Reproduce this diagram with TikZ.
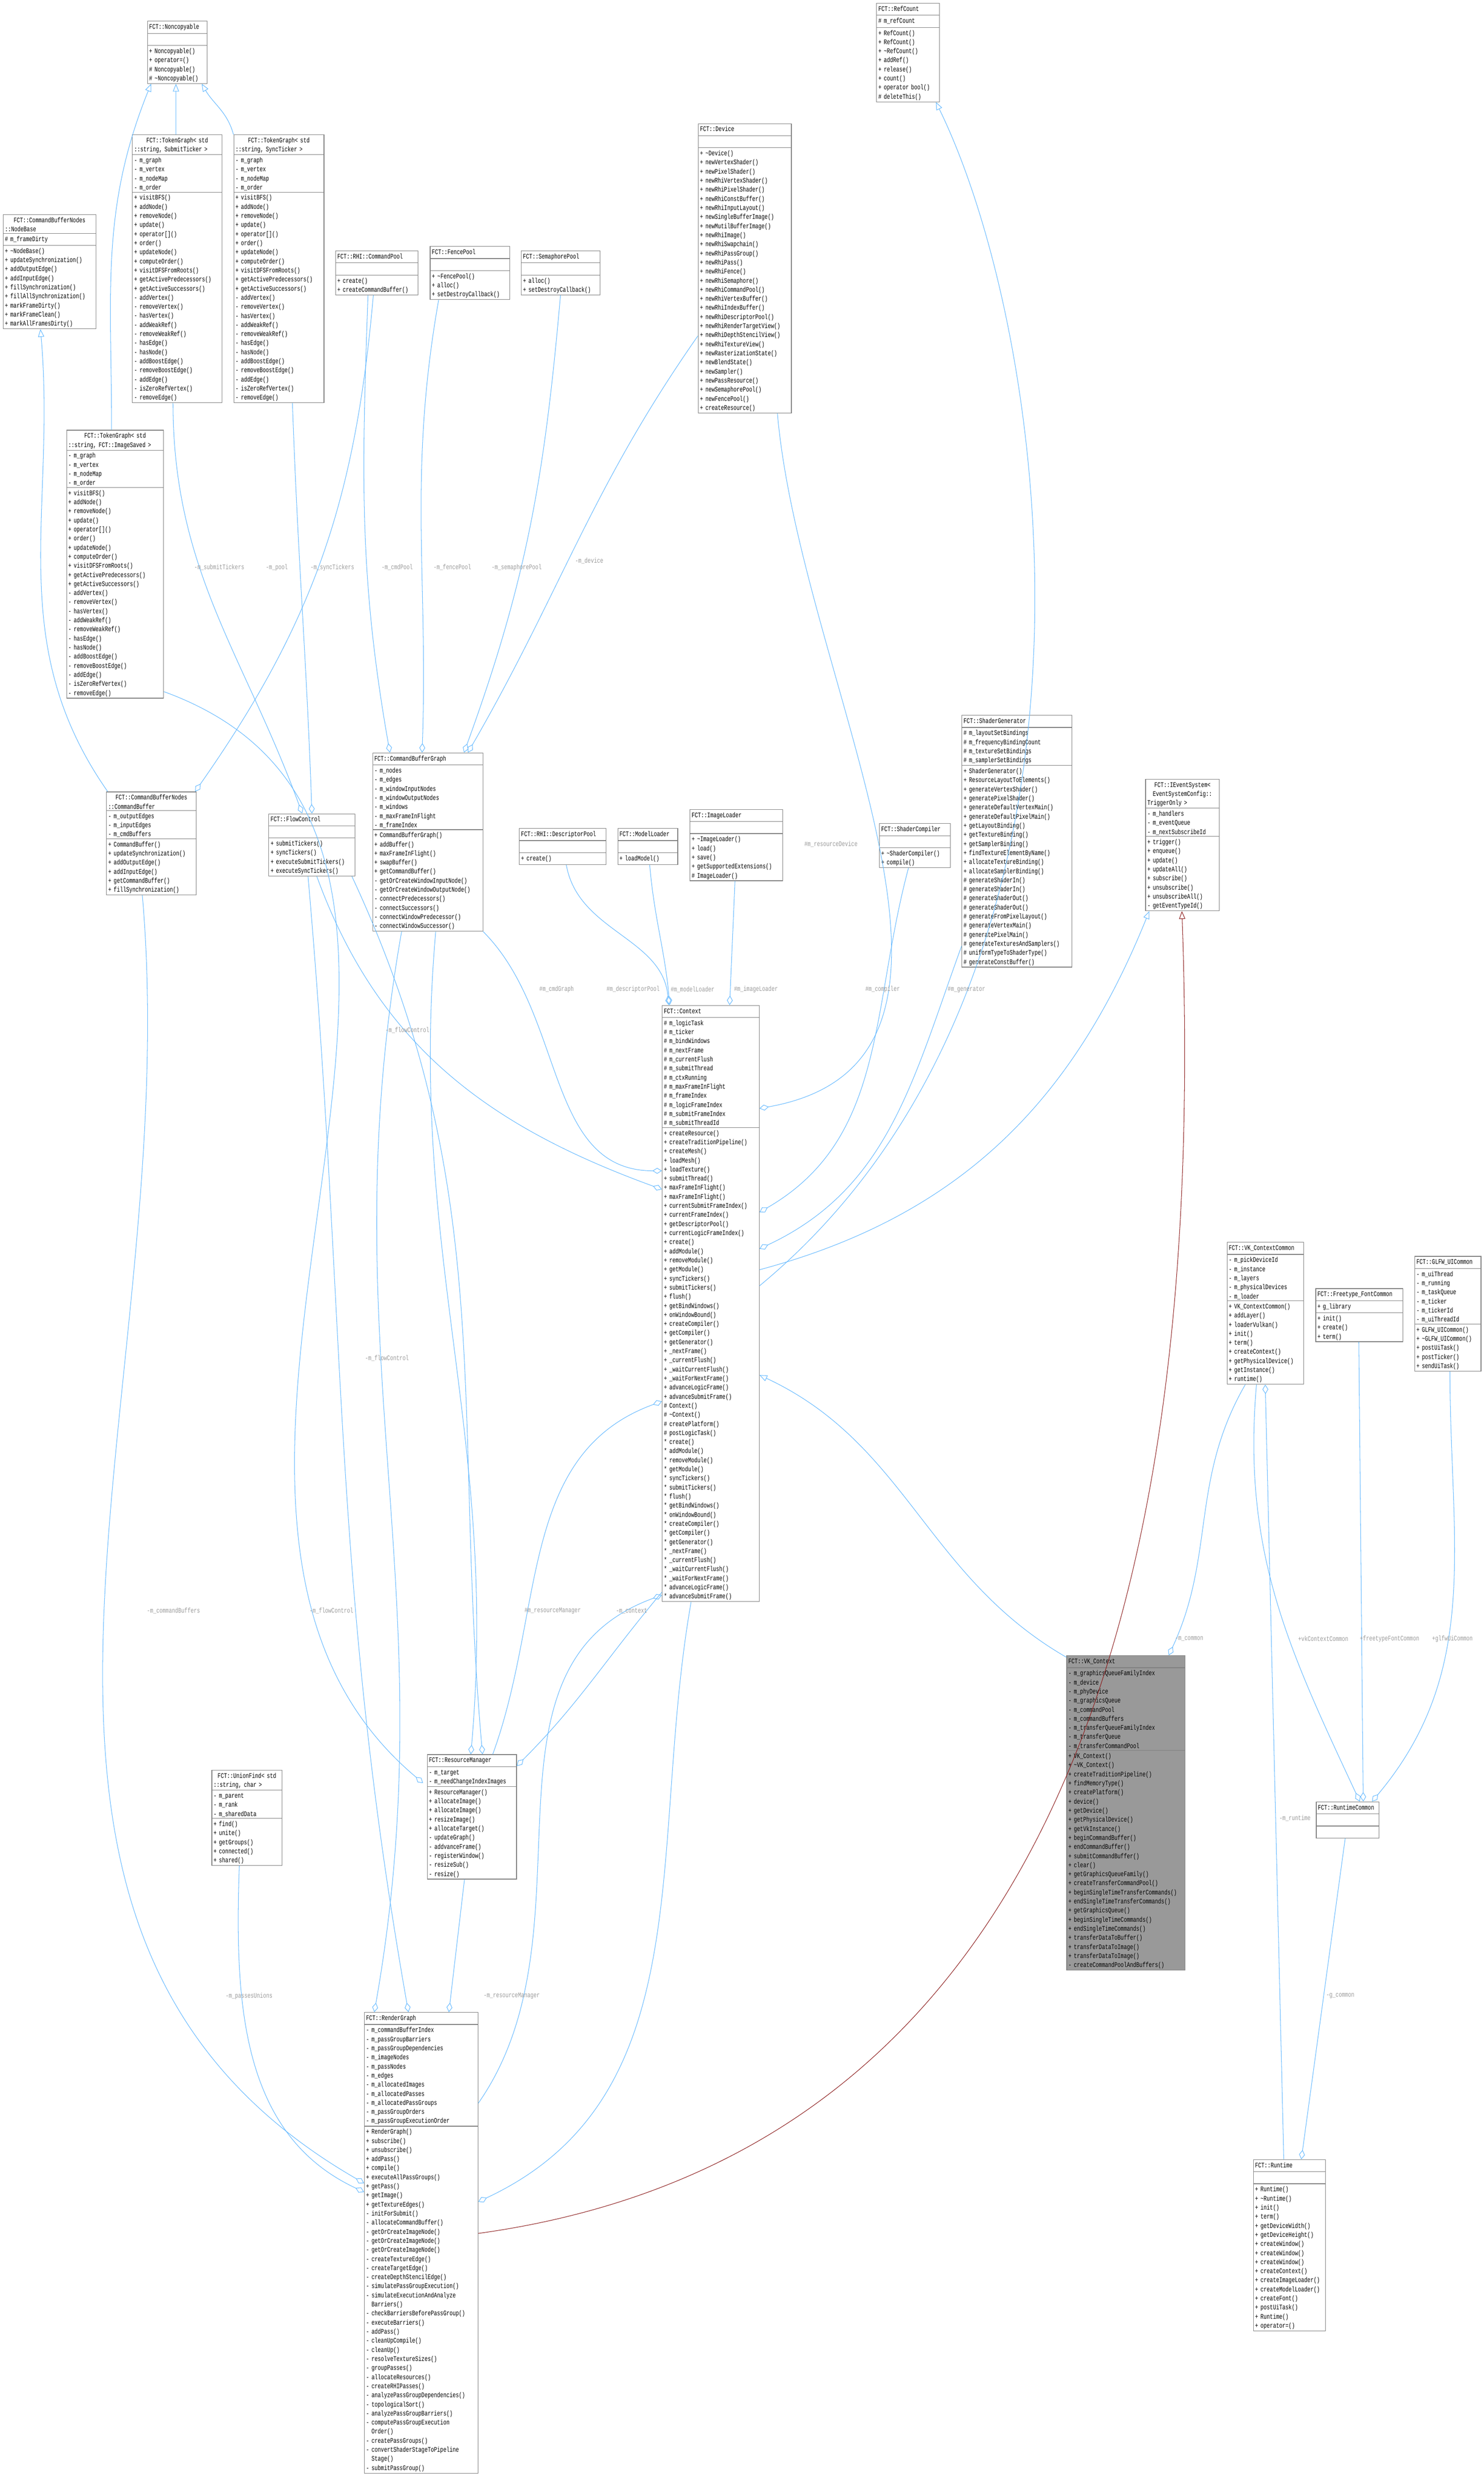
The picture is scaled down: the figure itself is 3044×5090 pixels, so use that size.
\documentclass[tikz,border=0pt]{standalone}
\usepackage{fontspec}
\usepackage{tikz}
\usetikzlibrary{positioning,calc,arrows.meta,shapes.multipart}
\usepackage{xcolor}

\newfontfamily\umlfam[FakeStretch=0.74]{Liberation Mono}
\newcommand\umlfont{\umlfam\fontsize{4.1}{5.3}\selectfont}
\definecolor{edgeblue}{HTML}{63B8FF}
\definecolor{lblgray}{HTML}{9A9A9A}
\definecolor{boxgray}{HTML}{808080}
\definecolor{inhred}{HTML}{8B1A1A}
\definecolor{vkfill}{HTML}{999999}

\tikzset{
  umlclass/.style={rectangle split, rectangle split parts=3, draw=boxgray, fill=white,
    line width=0.35pt, inner xsep=1pt, inner ysep=0.7pt, font=\umlfont, anchor=north west},
  agg/.style={draw=edgeblue, line width=0.3pt, -{Diamond[open,length=5.5pt,width=3.4pt]}},
  inh/.style={draw=edgeblue, line width=0.3pt, -{Triangle[open,length=4.5pt,width=3.6pt]}},
  inhred/.style={draw=inhred, line width=0.3pt, -{Triangle[open,length=4.5pt,width=3.6pt]}},
  lbl/.style={font=\umlfont, text=lblgray, inner sep=0pt}
}

% class box: [opts]{name}{x,y}{width}{title}{attributes}{methods}
\newcommand\umlbox[7][]{%
  \pgfmathsetmacro\umlw{(#4-7)*0.01}%
  \node[umlclass,#1,text width=\umlw cm] (#2) at (#3)
    {\centering\strut #5\nodepart{two}\raggedright\strut #6\nodepart{three}\raggedright\strut #7};}

\catcode`\_=12
\newcommand\tgattrs{- m_graph\\- m_vertex\\- m_nodeMap\\- m_order}
\newcommand\tgmethods{+ visitBFS()\\+ addNode()\\+ removeNode()\\+ update()\\+ operator[]()\\+ order()\\+ updateNode()\\+ computeOrder()\\+ visitDFSFromRoots()\\+ getActivePredecessors()\\+ getActiveSuccessors()\\- addVertex()\\- removeVertex()\\- hasVertex()\\- addWeakRef()\\- removeWeakRef()\\- hasEdge()\\- hasNode()\\- addBoostEdge()\\- removeBoostEdge()\\- addEdge()\\- isZeroRefVertex()\\- removeEdge()}

\begin{document}
\begin{tikzpicture}[x=0.01cm, y=-0.01cm]
  \useasboundingbox (0,0) rectangle (3044,5090);

  % Top row
  \umlbox{noncop}{302,43}{122}{FCT::Noncopyable}{}{+ Noncopyable()\\+ operator=()\\\# Noncopyable()\\\# \textasciitilde Noncopyable()}
  \umlbox{refcount}{1798,6}{129}{FCT::RefCount}{\# m_refCount}{+ RefCount()\\+ RefCount()\\+ \textasciitilde RefCount()\\+ addRef()\\+ release()\\+ count()\\+ operator bool()\\\# deleteThis()}
  \umlbox{tgsubmit}{271,276}{184}{FCT::TokenGraph< std\\::string, SubmitTicker >}{\tgattrs}{\tgmethods}
  \umlbox{tgsync}{479,276}{185}{FCT::TokenGraph< std\\::string, SyncTicker >}{\tgattrs}{\tgmethods}
  \umlbox{nodebase}{6,440}{190}{FCT::CommandBufferNodes\\::NodeBase}{\# m_frameDirty}{+ \textasciitilde NodeBase()\\+ updateSynchronization()\\+ addOutputEdge()\\+ addInputEdge()\\+ fillSynchronization()\\+ fillAllSynchronization()\\+ markFrameDirty()\\+ markFrameClean()\\+ markAllFramesDirty()}
  \umlbox{cmdpool}{688,514}{169}{FCT::RHI::CommandPool}{}{+ create()\\+ createCommandBuffer()}
  \umlbox{fencepool}{882,505}{163}{FCT::FencePool}{}{+ \textasciitilde FencePool()\\+ alloc()\\+ setDestroyCallback()}
  \umlbox{sempool}{1069,514}{162}{FCT::SemaphorePool}{}{+ alloc()\\+ setDestroyCallback()}
  \umlbox{device}{1432,253}{191}{FCT::Device}{}{+ \textasciitilde Device()\\+ newVertexShader()\\+ newPixelShader()\\+ newRhiVertexShader()\\+ newRhiPixelShader()\\+ newRhiConstBuffer()\\+ newRhiInputLayout()\\+ newSingleBufferImage()\\+ newMutilBufferImage()\\+ newRhiImage()\\+ newRhiSwapchain()\\+ newRhiPassGroup()\\+ newRhiPass()\\+ newRhiFence()\\+ newRhiSemaphore()\\+ newRhiCommandPool()\\+ newRhiVertexBuffer()\\+ newRhiIndexBuffer()\\+ newRhiDescriptorPool()\\+ newRhiRenderTargetView()\\+ newRhiDepthStencilView()\\+ newRhiTextureView()\\+ newRasterizationState()\\+ newBlendState()\\+ newSampler()\\+ newPassResource()\\+ newSemaphorePool()\\+ newFencePool()\\+ createResource()}

  % Middle row
  \umlbox{tgimage}{136,882}{199}{FCT::TokenGraph< std\\::string, FCT::ImageSaved >}{\tgattrs}{\tgmethods}
  \umlbox{cmdbuf}{218,1624}{184}{FCT::CommandBufferNodes\\::CommandBuffer}{- m_outputEdges\\- m_inputEdges\\- m_cmdBuffers}{+ CommandBuffer()\\+ updateSynchronization()\\+ addOutputEdge()\\+ addInputEdge()\\+ getCommandBuffer()\\+ fillSynchronization()}
  \umlbox{flowctl}{551,1669}{177}{FCT::FlowControl}{}{+ submitTickers()\\+ syncTickers()\\+ executeSubmitTickers()\\+ executeSyncTickers()}
  \umlbox{cbgraph}{764,1544}{226}{FCT::CommandBufferGraph}{- m_nodes\\- m_edges\\- m_windowInputNodes\\- m_windowOutputNodes\\- m_windows\\- m_maxFrameInFlight\\- m_frameIndex}{+ CommandBufferGraph()\\+ addBuffer()\\+ maxFrameInFlight()\\+ swapBuffer()\\+ getCommandBuffer()\\- getOrCreateWindowInputNode()\\- getOrCreateWindowOutputNode()\\- connectPredecessors()\\- connectSuccessors()\\- connectWindowPredecessor()\\- connectWindowSuccessor()}
  \umlbox{descpool}{1065,1699}{178}{FCT::RHI::DescriptorPool}{}{+ create()}
  \umlbox{modelld}{1267,1699}{123}{FCT::ModelLoader}{}{+ loadModel()}
  \umlbox{imageld}{1415,1660}{190}{FCT::ImageLoader}{}{+ \textasciitilde ImageLoader()\\+ load()\\+ save()\\+ getSupportedExtensions()\\\# ImageLoader()}
  \umlbox{shcomp}{1804,1689}{145}{FCT::ShaderCompiler}{}{+ \textasciitilde ShaderCompiler()\\+ compile()}
  \umlbox{shgen}{1973,1467}{226}{FCT::ShaderGenerator}{\# m_layoutSetBindings\\\# m_frequencyBindingCount\\\# m_textureSetBindings\\\# m_samplerSetBindings}{+ ShaderGenerator()\\+ ResourceLayoutToElements()\\+ generateVertexShader()\\+ generatePixelShader()\\+ generateDefaultVertexMain()\\+ generateDefaultPixelMain()\\+ getLayoutBinding()\\+ getTextureBinding()\\+ getSamplerBinding()\\+ findTextureElementByName()\\+ allocateTextureBinding()\\+ allocateSamplerBinding()\\\# generateShaderIn()\\\# generateShaderIn()\\\# generateShaderOut()\\\# generateShaderOut()\\\# generateFromPixelLayout()\\\# generateVertexMain()\\\# generatePixelMain()\\\# generateTexturesAndSamplers()\\\# uniformTypeToShaderType()\\\# generateConstBuffer()}
  \umlbox{ievent}{2350,1598}{151}{FCT::IEventSystem<\\ EventSystemConfig::\\TriggerOnly >}{- m_handlers\\- m_eventQueue\\- m_nextSubscribeId}{+ trigger()\\+ enqueue()\\+ update()\\+ updateAll()\\+ subscribe()\\+ unsubscribe()\\+ unsubscribeAll()\\- getEventTypeId()}

  % Context
  \umlbox{context}{1358,2062}{199}{FCT::Context}{\# m_logicTask\\\# m_ticker\\\# m_bindWindows\\\# m_nextFrame\\\# m_currentFlush\\\# m_submitThread\\\# m_ctxRunning\\\# m_maxFrameInFlight\\\# m_frameIndex\\\# m_logicFrameIndex\\\# m_submitFrameIndex\\\# m_submitThreadId}{+ createResource()\\+ createTraditionPipeline()\\+ createMesh()\\+ loadMesh()\\+ loadTexture()\\+ submitThread()\\+ maxFrameInFlight()\\+ maxFrameInFlight()\\+ currentSubmitFrameIndex()\\+ currentFrameIndex()\\+ getDescriptorPool()\\+ currentLogicFrameIndex()\\+ create()\\+ addModule()\\+ removeModule()\\+ getModule()\\+ syncTickers()\\+ submitTickers()\\+ flush()\\+ getBindWindows()\\+ onWindowBound()\\+ createCompiler()\\+ getCompiler()\\+ getGenerator()\\+ _nextFrame()\\+ _currentFlush()\\+ _waitCurrentFlush()\\+ _waitForNextFrame()\\+ advanceLogicFrame()\\+ advanceSubmitFrame()\\\# Context()\\\# \textasciitilde Context()\\\# createPlatform()\\\# postLogicTask()\\{*} create()\\{*} addModule()\\{*} removeModule()\\{*} getModule()\\{*} syncTickers()\\{*} submitTickers()\\{*} flush()\\{*} getBindWindows()\\{*} onWindowBound()\\{*} createCompiler()\\{*} getCompiler()\\{*} getGenerator()\\{*} _nextFrame()\\{*} _currentFlush()\\{*} _waitCurrentFlush()\\{*} _waitForNextFrame()\\{*} advanceLogicFrame()\\{*} advanceSubmitFrame()}

  % Right side
  \umlbox{vkcommon}{2517,2548}{157}{FCT::VK_ContextCommon}{- m_pickDeviceId\\- m_instance\\- m_layers\\- m_physicalDevices\\- m_loader}{+ VK_ContextCommon()\\+ addLayer()\\+ loaderVulkan()\\+ init()\\+ term()\\+ createContext()\\+ getPhysicalDevice()\\+ getInstance()\\+ runtime()}
  \umlbox{ftcommon}{2699,2643}{179}{FCT::Freetype_FontCommon}{+ g_library}{+ init()\\+ create()\\+ term()}
  \umlbox{glfwcommon}{2902,2577}{136}{FCT::GLFW_UICommon}{- m_uiThread\\- m_running\\- m_taskQueue\\- m_ticker\\- m_tickerId\\- m_uiThreadId}{+ GLFW_UICommon()\\+ \textasciitilde GLFW_UICommon()\\+ postUiTask()\\+ postTicker()\\+ sendUiTask()}
  \umlbox[fill=vkfill]{vkctx}{2188,3396}{243}{FCT::VK_Context}{- m_graphicsQueueFamilyIndex\\- m_device\\- m_phyDevice\\- m_graphicsQueue\\- m_commandPool\\- m_commandBuffers\\- m_transferQueueFamilyIndex\\- m_transferQueue\\- m_transferCommandPool}{+ VK_Context()\\+ \textasciitilde VK_Context()\\+ createTraditionPipeline()\\+ findMemoryType()\\+ createPlatform()\\+ device()\\+ getDevice()\\+ getPhysicalDevice()\\+ getVkInstance()\\+ beginCommandBuffer()\\+ endCommandBuffer()\\+ submitCommandBuffer()\\+ clear()\\+ getGraphicsQueueFamily()\\+ createTransferCommandPool()\\+ beginSingleTimeTransferCommands()\\+ endSingleTimeTransferCommands()\\+ getGraphicsQueue()\\+ beginSingleTimeCommands()\\+ endSingleTimeCommands()\\+ transferDataToBuffer()\\+ transferDataToImage()\\+ transferDataToImage()\\- createCommandPoolAndBuffers()}
  \umlbox{rtcommon}{2700,3696}{129}{FCT::RuntimeCommon}{}{}
  \umlbox{runtime}{2571,4430}{148}{FCT::Runtime}{}{+ Runtime()\\+ \textasciitilde Runtime()\\+ init()\\+ term()\\+ getDeviceWidth()\\+ getDeviceHeight()\\+ createWindow()\\+ createWindow()\\+ createWindow()\\+ createContext()\\+ createImageLoader()\\+ createModelLoader()\\+ createFont()\\+ postUiTask()\\+ Runtime()\\+ operator=()}

  % Bottom
  \umlbox{unionfind}{434,3631}{144}{FCT::UnionFind< std\\::string, char >}{- m_parent\\- m_rank\\- m_sharedData}{+ find()\\+ unite()\\+ getGroups()\\+ connected()\\+ shared()}
  \umlbox{resmgr}{876,3599}{183}{FCT::ResourceManager}{- m_target\\- m_needChangeIndexImages}{+ ResourceManager()\\+ allocateImage()\\+ allocateImage()\\+ resizeImage()\\+ allocateTarget()\\- updateGraph()\\- addvanceFrame()\\- registerWindow()\\- resizeSub()\\- resize()}
  \umlbox{rgraph}{747,4128}{233}{FCT::RenderGraph}{- m_commandBufferIndex\\- m_passGroupBarriers\\- m_passGroupDependencies\\- m_imageNodes\\- m_passNodes\\- m_edges\\- m_allocatedImages\\- m_allocatedPasses\\- m_allocatedPassGroups\\- m_passGroupOrders\\- m_passGroupExecutionOrder}{+ RenderGraph()\\+ subscribe()\\+ unsubscribe()\\+ addPass()\\+ compile()\\+ executeAllPassGroups()\\+ getPass()\\+ getImage()\\+ getTextureEdges()\\- initForSubmit()\\- allocateCommandBuffer()\\- getOrCreateImageNode()\\- getOrCreateImageNode()\\- getOrCreateImageNode()\\- createTextureEdge()\\- createTargetEdge()\\- createDepthStencilEdge()\\- simulatePassGroupExecution()\\- simulateExecutionAndAnalyze\\\phantom{- }Barriers()\\- checkBarriersBeforePassGroup()\\- executeBarriers()\\- addPass()\\- cleanUpCompile()\\- cleanUp()\\- resolveTextureSizes()\\- groupPasses()\\- allocateResources()\\- createRHIPasses()\\- analyzePassGroupDependencies()\\- topologicalSort()\\- analyzePassGroupBarriers()\\- computePassGroupExecution\\\phantom{- }Order()\\- createPassGroups()\\- convertShaderStageToPipeline\\\phantom{- }Stage()\\- submitPassGroup()}

  % Inheritance
  \draw[inh] ($(tgsubmit.north west)+(90,0)$) -- ($(noncop.south west)+(59,0)$);
  \draw[inh] (tgsync.north west) to[out=105,in=-60] ($(noncop.south west)+(112,0)$);
  \draw[inh] ($(tgimage.north west)+(93,0)$) to[out=90,in=-112] ($(noncop.south west)+(8,0)$);
  \draw[inh] ($(cmdbuf.north west)+(3,0)$) to[out=125,in=-85] ($(nodebase.south west)+(77,0)$);
  \draw[inh] ($(context.north east)+(0,576)$) .. controls (2330,2000) and (2160,700) .. ($(refcount.south east)+(-8,0)$);
  \draw[inh] ($(context.north east)+(0,543)$) to[out=15,in=-112] ($(ievent.south west)+(8,0)$);
  \draw[inh] ($(vkctx.north west)+(0,4)$) to[out=150,in=-25] ($(context.north east)+(0,759)$);
  \draw[inhred] ($(rgraph.north east)+(0,454)$) .. controls (2300,4400) and (2465,3000) .. ($(ievent.south west)+(75,0)$);

  % Aggregation
  \draw[agg] ($(tgsubmit.south west)+(84,0)$) to[out=-90,in=110] ($(flowctl.north west)+(69,0)$);
  \draw[agg] ($(tgsync.south west)+(121,0)$) to[out=-88,in=92] ($(flowctl.north west)+(89,0)$);
  \draw[agg] ($(cmdpool.south west)+(78,0)$) to[out=-95,in=55] ($(cmdbuf.north east)+(-3,0)$);
  \draw[agg] ($(cmdpool.south west)+(67,0)$) to[out=-92,in=100] ($(cbgraph.north west)+(36,0)$);
  \draw[agg] ($(fencepool.south west)+(18,0)$) to[out=-100,in=88] ($(cbgraph.north west)+(102,0)$);
  \draw[agg] ($(sempool.south west)+(81,0)$) to[out=-95,in=70] ($(cbgraph.north west)+(188,0)$);
  \draw[agg] ($(device.north west)+(0,436)$) to[out=-125,in=60] ($(cbgraph.north west)+(196,0)$);
  \draw[agg] ($(device.south west)+(163,0)$) to[out=-85,in=10] ($(context.north east)+(0,212)$);
  \draw[agg] (cbgraph.south east) to[out=-45,in=180] ($(context.north west)+(0,340)$);
  \draw[agg] ($(descpool.south west)+(97,0)$) to[out=-80,in=95] ($(context.north west)+(14,0)$);
  \draw[agg] ($(modelld.south west)+(66,0)$) to[out=-85,in=95] ($(context.north west)+(16,0)$);
  \draw[agg] ($(imageld.south west)+(93,0)$) -- ($(context.north west)+(139,0)$);
  \draw[agg] ($(shcomp.south west)+(60,0)$) to[out=-105,in=30] ($(context.north east)+(0,425)$);
  \draw[agg] ($(shgen.south west)+(0,-44)$) to[out=-110,in=25] ($(context.north east)+(0,500)$);
  \draw[agg] ($(flowctl.south west)+(99,0)$) to[out=-70,in=160] ($(context.north west)+(0,378)$);
  \draw[agg] ($(flowctl.south west)+(81,0)$) to[out=-85,in=100] ($(rgraph.north west)+(91,0)$);
  \draw[agg] ($(flowctl.south west)+(171,0)$) to[out=-65,in=95] ($(resmgr.north west)+(114,0)$);
  \draw[agg] ($(tgimage.south east)+(0,-14)$) to[out=-20,in=140] ($(resmgr.north west)+(-8,59)$);
  \draw[agg] ($(cmdbuf.south west)+(74,0)$) to[out=-85,in=150] ($(rgraph.north west)+(0,351)$);
  \draw[agg] ($(unionfind.south west)+(57,0)$) to[out=-92,in=155] ($(rgraph.north west)+(0,369)$);
  \draw[agg] ($(cbgraph.south west)+(130,0)$) to[out=-95,in=85] ($(resmgr.north west)+(90,0)$);
  \draw[agg] ($(cbgraph.south west)+(60,0)$) to[out=-100,in=80] ($(rgraph.north west)+(21,0)$);
  \draw[agg] ($(resmgr.south west)+(77,0)$) -- ($(rgraph.north west)+(174,0)$);
  \draw[agg] ($(resmgr.north west)+(135,0)$) to[out=70,in=200] ($(context.north west)+(0,813)$);
  \draw[agg] ($(context.south west)+(0,-20)$) to[out=-130,in=45] ($(resmgr.north east)+(0,24)$);
  \draw[agg] ($(context.south west)+(60,0)$) to[out=-100,in=25] ($(rgraph.north east)+(0,389)$);
  \draw[agg] ($(rgraph.north east)+(0,187)$) to[out=55,in=200] ($(context.south west)+(0,-14)$);
  \draw[agg] ($(vkcommon.south west)+(38,0)$) to[out=-120,in=65] ($(vkctx.north west)+(210,0)$);
  \draw[agg] ($(runtime.north west)+(63,0)$) -- ($(vkcommon.south west)+(79,0)$);
  \draw[agg] ($(vkcommon.south west)+(61,0)$) to[out=-95,in=115] ($(rtcommon.north west)+(90,0)$);
  \draw[agg] ($(ftcommon.south west)+(89,0)$) -- ($(rtcommon.north west)+(97,0)$);
  \draw[agg] ($(glfwcommon.south west)+(73,0)$) to[out=-90,in=50] ($(rtcommon.north west)+(115,0)$);
  \draw[agg] ($(rtcommon.south west)+(60,0)$) -- ($(runtime.north west)+(99,0)$);

  % Edge labels
  \node[lbl] (lsubmit) at (450,1164) {-m_submitTickers};
  \node[lbl] (lpool) at (568,1164) {-m_pool};
  \node[lbl] (lsync) at (682,1164) {-m_syncTickers};
  \node[lbl] (lcmdpool) at (815,1164) {-m_cmdPool};
  \node[lbl] (lfence) at (928,1164) {-m_fencePool};
  \node[lbl] (lsem) at (1060,1164) {-m_semaphorePool};
  \node[lbl] (ldevice) at (1209,1150) {-m_device};
  \node[lbl] (lresdev) at (1705,1732) {\#m_resourceDevice};
  \node[lbl] (lcmdgraph) at (1142,2030) {\#m_cmdGraph};
  \node[lbl] (ldesc) at (1299,2030) {\#m_descriptorPool};
  \node[lbl] (lmodel) at (1421,2030) {\#m_modelLoader};
  \node[lbl] (limage) at (1551,2030) {\#m_imageLoader};
  \node[lbl] (lcomp) at (1811,2030) {\#m_compiler};
  \node[lbl] (lgen) at (1983,2030) {\#m_generator};
  \node[lbl] (lflow1) at (836,2113) {-m_flowControl};
  \node[lbl] (lflow2) at (794,2786) {-m_flowControl};
  \node[lbl] (lflow3) at (680,3305) {-m_flowControl};
  \node[lbl] (lcmdbufs) at (356,3305) {-m_commandBuffers};
  \node[lbl] (lresmgr1) at (1134,3305) {\#m_resourceManager};
  \node[lbl] (lctx) at (1296,3305) {-m_context};
  \node[lbl] (lunions) at (511,4095) {-m_passesUnions};
  \node[lbl] (lresmgr2) at (1050,4095) {-m_resourceManager};
  \node[lbl] (lcommon) at (2440,3362) {-m_common};
  \node[lbl] (lruntime) at (2657,3730) {-m_runtime};
  \node[lbl] (lvkcommon) at (2715,3362) {+vkContextCommon};
  \node[lbl] (lftcommon) at (2851,3362) {+freetypeFontCommon};
  \node[lbl] (lglfw) at (2980,3362) {+glfwUiCommon};
  \node[lbl] (lgcommon) at (2750,4094) {-g_common};

\end{tikzpicture}
\end{document}
